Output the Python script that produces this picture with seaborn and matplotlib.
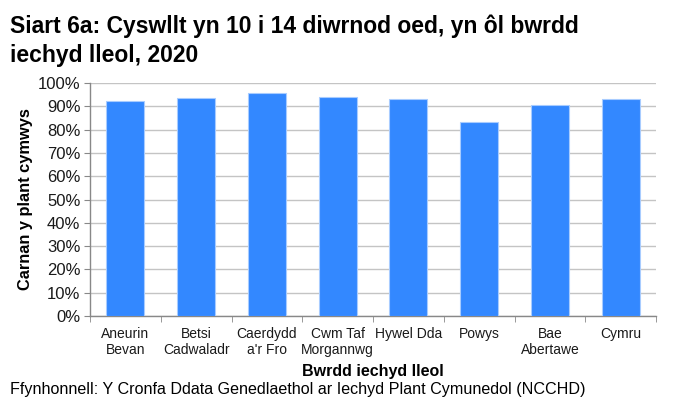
import pandas as pd
import numpy as np
import matplotlib.pyplot as plt
import seaborn as sns
from matplotlib.ticker import PercentFormatter, FixedLocator

# Data
boards = ['Aneurin\nBevan', 'Betsi\nCadwaladr', 'Caerdydd\na\'r Fro', 'Cwm Taf\nMorgannwg',
          'Hywel Dda', 'Powys', 'Bae\nAbertawe', 'Cymru']
contact_pct = [92.1, 93.5, 95.6, 94.0, 93.1, 83.2, 90.7, 93.0]

df = pd.DataFrame({'board': boards, 'pct': contact_pct})

sns.set_style('white')
plt.rcParams['font.family'] = ['Liberation Sans', 'DejaVu Sans']
plt.rcParams['text.color'] = '#000000'
plt.rcParams['axes.labelcolor'] = '#000000'

fig = plt.figure(figsize=(6.73, 4.17), dpi=100)
ax = fig.add_axes([90 / 673, 1 - 316 / 417, (656 - 90) / 673, (316 - 83) / 417])

sns.barplot(data=df, x='board', y='pct', color='#3388ff', saturation=1,
            width=0.54, edgecolor='#a8ccff', linewidth=0.8, ax=ax, zorder=3)

ax.set_ylim(0, 100)
ax.set_xlim(-0.5, len(boards) - 0.5)
ax.set_yticks(np.arange(0, 101, 10))
ax.yaxis.set_major_formatter(PercentFormatter(decimals=0))
ax.yaxis.grid(True, color='#c4c4c4', linewidth=1, zorder=0)
ax.set_axisbelow(True)

ax.xaxis.set_minor_locator(FixedLocator(np.arange(-0.5, len(boards), 1)))
ax.tick_params(axis='x', which='major', length=0, pad=8, labelsize=10, colors='#1a1a1a')
ax.tick_params(axis='x', which='minor', length=4, color='#888888', bottom=True)
ax.tick_params(axis='y', length=4, color='#888888', left=True, labelsize=12, colors='#1a1a1a', pad=3)

for s in ['top', 'right']:
    ax.spines[s].set_visible(False)
for s in ['left', 'bottom']:
    ax.spines[s].set_color('#888888')
    ax.spines[s].set_linewidth(1)

ax.set_xlabel('Bwrdd iechyd lleol', fontsize=11.5, fontweight='bold', labelpad=5)
ax.set_ylabel('Carnan y plant cymwys', fontsize=11.8, fontweight='bold', labelpad=3)

fig.text(10 / 673, 1 - 33 / 417, 'Siart 6a: Cyswllt yn 10 i 14 diwrnod oed, yn ôl bwrdd',
         fontsize=16.5, fontweight='bold', ha='left', va='baseline')
fig.text(10 / 673, 1 - 62 / 417, 'iechyd lleol, 2020',
         fontsize=16.5, fontweight='bold', ha='left', va='baseline')
fig.text(10 / 673, 1 - 394 / 417,
         'Ffynhonnell: Y Cronfa Ddata Genedlaethol ar Iechyd Plant Cymunedol (NCCHD)',
         fontsize=11.6, ha='left', va='baseline')

fig.savefig('out.png', dpi=100)
